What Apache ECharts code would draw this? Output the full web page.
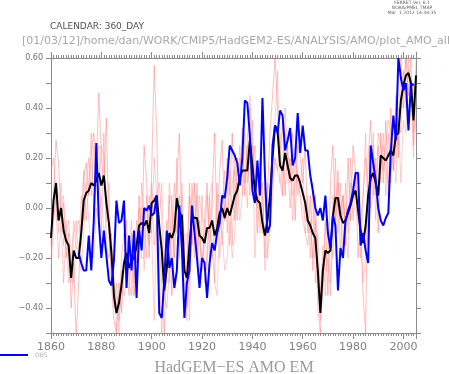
<!DOCTYPE html>
<html><head><meta charset="utf-8">
<script src="https://cdn.jsdelivr.net/npm/echarts@6/dist/echarts.min.js"></script>
<style>html,body{margin:0;padding:0;background:#fff}#c{width:449px;height:374px}</style>
</head><body><div id="c"></div>
<script>
const firstYear = 1860;
const lastYear = 2005;
const xTickLabels = [1860, 1880, 1900, 1920, 1940, 1960, 1980, 2000];
const yTickLabels = [-0.4, -0.2, 0.0, 0.2, 0.4, 0.6];

// Ensemble mean (black)
const emValues = [
 -0.12, 0.03, 0.10, -0.05, 0.00, -0.09, -0.13, -0.15, -0.28, -0.17,
 -0.20, -0.20, -0.10, 0.03, 0.06, 0.07, 0.10, 0.09, 0.11, 0.14,
 0.09, 0.13, 0.02, -0.06, -0.18, -0.35, -0.42, -0.38, -0.31, -0.22,
 -0.18, -0.24, -0.21, -0.20, -0.15, -0.07, -0.06, -0.07, -0.05, -0.10,
 0.02, 0.03, 0.05, -0.07, -0.17, -0.33, -0.24, -0.10, -0.12, -0.09,
 0.04, -0.02, -0.03, -0.25, -0.28, -0.15, -0.03, -0.04, -0.04, -0.11,
 -0.12, -0.14, -0.08, -0.08, -0.05, -0.11, -0.08, -0.02, 0.00, -0.04,
 0.00, -0.03, 0.01, 0.05, 0.07, 0.12, 0.15, 0.15, 0.15, 0.27,
 0.17, 0.07, 0.03, 0.02, -0.06, -0.11, -0.05, 0.05, 0.20, 0.33,
 0.31, 0.17, 0.15, 0.22, 0.17, 0.12, 0.11, 0.13, 0.13, 0.10,
 0.06, 0.02, -0.05, -0.07, -0.10, -0.12, -0.25, -0.42, -0.25, -0.17,
 -0.18, -0.17, -0.03, 0.04, 0.04, -0.03, -0.06, -0.05, -0.02, 0.01,
 0.05, 0.07, -0.01, -0.09, -0.14, -0.07, 0.05, 0.12, 0.14, 0.10,
 0.05, 0.21, 0.20, 0.19, 0.21, 0.23, 0.21, 0.29, 0.30, 0.43,
 0.49, 0.53, 0.54, 0.50, 0.35, 0.53
];

// Observations (blue), null before 1871
const obsValues = [
 null, null, null, null, null, null, null, null, null, null,
 null, -0.18, -0.22, -0.25, -0.25, -0.11, -0.25, -0.05, 0.26, -0.05,
 -0.20, -0.09, -0.19, -0.29, -0.31, -0.21, 0.03, -0.06, -0.05, 0.03,
 -0.32, -0.11, -0.25, -0.09, -0.36, -0.09, -0.17, 0.00, -0.01, 0.01,
 -0.03, -0.02, 0.05, -0.42, -0.44, -0.29, -0.09, -0.24, -0.20, -0.32,
 -0.25, 0.01, -0.16, -0.44, -0.30, -0.25, 0.01, -0.10, -0.20, -0.32,
 -0.20, -0.22, -0.36, -0.22, -0.14, -0.17, -0.10, -0.06, 0.05, 0.04,
 0.12, 0.25, 0.23, 0.21, 0.18, 0.09, 0.20, 0.43, 0.42, 0.29,
 0.07, 0.02, 0.19, 0.05, 0.44, 0.13, -0.10, -0.07, 0.25, 0.33,
 0.30, 0.39, 0.37, 0.23, 0.27, 0.32, 0.17, 0.20, 0.38, 0.22,
 0.33, 0.23, 0.23, 0.13, 0.07, 0.00, -0.03, 0.00, -0.05, 0.05,
 -0.10, -0.16, -0.03, -0.07, -0.33, -0.16, -0.20, -0.05, -0.01, 0.02,
 0.07, 0.14, 0.14, -0.15, -0.10, -0.17, -0.22, 0.25, 0.18, 0.11,
 0.00, -0.05, -0.07, -0.04, -0.02, 0.23, 0.37, 0.27, 0.60, 0.52,
 0.47, 0.50, 0.31, 0.50, 0.49, null
];

// Ensemble members (light red)
const member1 = [
 -0.15, 0.05, 0.27, 0.18, -0.05, 0.02, -0.20, -0.10, -0.40, -0.22,
 -0.52, -0.30, -0.05, 0.12, 0.18, 0.05, 0.22, 0.30, 0.15, 0.46,
 0.20, 0.10, 0.36, -0.10, -0.30, -0.45, -0.50, -0.30, -0.42, -0.20,
 -0.05, -0.30, -0.35, -0.10, -0.22, 0.05, -0.15, 0.25, 0.10, -0.20,
 0.15, 0.57, 0.30, -0.15, -0.30, -0.50, -0.20, 0.05, -0.35, -0.05,
 0.10, 0.30, -0.10, -0.40, -0.20, 0.05, -0.15, 0.10, -0.20, -0.05,
 -0.25, -0.05, 0.10, -0.20, 0.05, 0.30, -0.10, 0.15, 0.27, -0.05,
 0.20, 0.05, 0.30, -0.05, 0.20, 0.10, 0.32, 0.05, 0.28, 0.40,
 0.15, 0.25, -0.10, 0.05, 0.10, -0.20, 0.05, 0.30, 0.45, 0.60,
 0.40, 0.20, 0.35, 0.05, 0.25, 0.10, 0.30, -0.05, 0.25, 0.20,
 0.10, 0.25, -0.10, 0.05, -0.25, -0.05, -0.40, -0.50, -0.30, -0.05,
 -0.35, 0.10, 0.25, -0.05, 0.15, -0.20, 0.05, -0.15, 0.20, -0.05,
 0.25, 0.15, -0.20, -0.05, -0.35, -0.50, 0.20, 0.35, 0.05, 0.20,
 -0.10, 0.30, 0.10, 0.35, 0.05, 0.40, 0.15, 0.45, 0.20, 0.60,
 0.40, 0.60, 0.45, 0.60, 0.25, 0.50
];
const member2 = [
 -0.20, -0.05, 0.05, -0.10, 0.10, -0.15, -0.05, -0.25, -0.30, -0.10,
 -0.05, -0.20, -0.25, -0.10, 0.10, 0.20, 0.05, 0.25, 0.10, 0.05,
 0.25, 0.20, -0.05, 0.10, -0.25, -0.30, -0.35, -0.50, -0.25, -0.35,
 -0.30, -0.15, -0.05, -0.30, -0.05, -0.20, 0.10, -0.05, -0.20, 0.05,
 -0.10, 0.20, 0.05, 0.10, -0.05, -0.35, -0.40, -0.25, 0.05, -0.20,
 0.20, -0.20, 0.10, -0.15, -0.40, -0.30, 0.10, -0.10, 0.05, -0.30,
 0.05, -0.30, -0.20, 0.05, -0.20, -0.10, 0.10, -0.20, -0.05, 0.15,
 -0.10, 0.15, -0.15, 0.20, 0.05, 0.25, 0.05, 0.30, 0.10, 0.20,
 0.35, 0.05, 0.15, -0.05, -0.10, 0.10, -0.20, -0.05, 0.20, 0.35,
 0.55, 0.10, 0.05, 0.30, 0.15, 0.20, -0.05, 0.20, 0.05, 0.10,
 0.20, -0.10, 0.05, -0.20, 0.10, -0.30, -0.10, -0.35, -0.15, -0.35,
 -0.05, -0.30, -0.15, 0.20, -0.10, 0.10, -0.20, 0.10, -0.10, 0.20,
 -0.05, 0.10, 0.15, -0.20, 0.05, 0.30, -0.15, 0.05, 0.30, -0.05,
 0.25, 0.10, 0.30, 0.05, 0.30, 0.10, 0.35, 0.20, 0.40, 0.30,
 0.55, 0.40, 0.60, 0.40, 0.50, 0.30
];
const member3 = [
 0.15, 0.20, 0.00, -0.20, -0.05, -0.30, -0.10, -0.05, -0.20, -0.30,
 -0.10, -0.05, -0.15, 0.15, -0.05, 0.10, 0.30, -0.05, 0.20, 0.25,
 -0.10, 0.30, -0.15, -0.20, -0.10, -0.40, -0.30, -0.45, -0.20, -0.10,
 -0.25, -0.35, -0.10, -0.35, -0.15, 0.00, -0.20, -0.20, 0.05, -0.15,
 0.10, -0.15, -0.05, -0.25, -0.50, -0.25, -0.05, -0.30, -0.15, 0.10,
 -0.10, 0.05, -0.20, -0.30, -0.45, 0.10, -0.10, -0.20, 0.10, -0.15,
 -0.20, -0.15, 0.05, -0.10, -0.15, -0.30, 0.05, 0.05, -0.15, 0.00,
 0.10, -0.15, 0.10, 0.15, -0.05, 0.20, 0.15, 0.10, 0.25, 0.05,
 0.25, 0.15, 0.00, 0.20, -0.05, -0.10, 0.10, 0.05, 0.10, 0.20,
 0.15, 0.30, 0.05, 0.40, 0.20, 0.00, 0.15, 0.25, 0.10, 0.05,
 -0.05, -0.10, -0.15, -0.05, -0.20, 0.05, -0.30, -0.45, -0.20, -0.25,
 -0.20, -0.35, 0.05, -0.10, 0.10, 0.00, 0.05, -0.10, -0.20, 0.10,
 0.05, 0.15, 0.00, -0.05, 0.05, 0.20, 0.10, 0.10, 0.25, 0.05,
 0.30, 0.25, 0.15, 0.25, 0.35, 0.30, 0.15, 0.40, 0.25, 0.45,
 0.50, 0.60, 0.55, 0.45, 0.30, 0.55
];
const member4 = [
 -0.25, -0.05, 0.10, 0.05, 0.00, 0.05, -0.15, -0.30, -0.25, -0.05,
 -0.15, -0.20, 0.05, -0.05, 0.10, -0.05, -0.15, -0.20, 0.00, -0.05,
 0.05, -0.10, -0.05, -0.05, -0.15, -0.25, -0.50, -0.35, -0.40, -0.25,
 -0.10, -0.20, -0.30, -0.35, -0.20, -0.10, 0.00, -0.25, -0.05, -0.05,
 -0.10, -0.45, -0.05, -0.05, 0.10, -0.25, -0.30, 0.10, 0.00, -0.20,
 0.00, -0.15, 0.05, -0.15, -0.10, -0.45, 0.05, 0.10, -0.15, 0.05,
 -0.05, -0.05, -0.25, 0.05, 0.10, -0.30, -0.35, -0.05, -0.10, -0.25,
 -0.20, -0.05, -0.20, -0.10, 0.10, -0.05, 0.05, 0.15, 0.00, 0.45,
 0.30, -0.20, 0.05, -0.10, 0.05, -0.25, -0.15, -0.10, 0.05, 0.20,
 0.15, 0.10, 0.15, 0.10, 0.10, 0.20, 0.05, 0.10, 0.15, 0.05,
 0.00, -0.05, -0.05, -0.10, -0.05, 0.05, -0.25, -0.40, -0.35, -0.05,
 -0.10, -0.15, -0.20, 0.05, 0.00, -0.05, 0.05, -0.05, 0.00, -0.05,
 0.00, 0.00, -0.05, -0.10, -0.30, -0.20, 0.10, 0.00, 0.05, 0.15,
 0.15, 0.20, 0.25, 0.15, 0.10, 0.15, 0.25, 0.10, 0.35, 0.10,
 0.35, 0.30, 0.55, 0.50, 0.20, 0.60
];

const years = [];
for (let y = firstYear; y <= lastYear; y++) years.push(y);
const pairs = vals => years.map((y, i) => [y, vals[i]]);

const axisGray = '#8a8a8a';
const xMin = firstYear, xMax = lastYear, yMin = -0.5, yMax = 0.6;

function xAx(pos, interval, len, labels) {
  return {
    type: 'value', position: pos, min: xMin, max: xMax, interval: interval,
    axisLine: { show: true, onZero: false, lineStyle: { color: axisGray, width: 1 } },
    axisTick: { show: true, inside: false, length: len, lineStyle: { color: axisGray, width: 1 } },
    axisLabel: labels ? {
      show: true, margin: 9, color: '#808080', fontSize: 11, fontFamily: 'DejaVu Sans',
      formatter: v => xTickLabels.indexOf(Math.round(v)) >= 0 && Math.abs(v - Math.round(v)) < 1e-6 ? String(Math.round(v)) : ''
    } : { show: false },
    splitLine: { show: false }
  };
}
function yAx(pos, labels) {
  return {
    type: 'value', position: pos, min: yMin, max: yMax, interval: 0.1,
    axisLine: { show: true, onZero: false, lineStyle: { color: axisGray, width: 1 } },
    axisTick: { show: true, inside: false, length: 5, lineStyle: { color: axisGray, width: 1 } },
    axisLabel: labels ? {
      show: true, margin: 8, color: '#707070', fontSize: 8, fontFamily: 'DejaVu Sans',
      formatter: v => {
        const r = Math.round(v * 10) / 10;
        if (!yTickLabels.some(t => Math.abs(t - r) < 1e-6)) return '';
        return (r < 0 ? '\u2212' : '') + Math.abs(r).toFixed(2);
      }
    } : { show: false },
    splitLine: { show: false }
  };
}

const redStyles = ['rgba(255,110,110,0.45)', 'rgba(255,140,140,0.45)', 'rgba(255,120,120,0.4)', 'rgba(255,150,150,0.45)'];
const members = [member1, member2, member3, member4];

const series = members.map((m, i) => ({
  name: 'member' + (i + 1), type: 'line', data: pairs(m), symbol: 'none',
  lineStyle: { color: redStyles[i], width: 1 }, itemStyle: { color: redStyles[i] },
  xAxisIndex: 0, yAxisIndex: 0, silent: true, z: 2
}));
series.push({
  name: 'EM', type: 'line', data: pairs(emValues), symbol: 'none',
  lineStyle: { color: '#000000', width: 2 }, itemStyle: { color: '#000' }, z: 3
});
series.push({
  name: 'OBS', type: 'line', data: pairs(obsValues), symbol: 'none', connectNulls: false,
  lineStyle: { color: '#0000ff', width: 2 }, itemStyle: { color: '#0000ff' }, z: 4
});

const chart = echarts.init(document.getElementById('c'), null, { renderer: 'canvas' });
chart.setOption({
  animation: false,
  backgroundColor: '#ffffff',
  grid: { left: 51, top: 58, right: 33, bottom: 41, containLabel: false },
  xAxis: [xAx('bottom', 1, 3, false), xAx('bottom', 20, 6, true), xAx('top', 1, 3, false), xAx('top', 20, 6, false)],
  yAxis: [yAx('left', true), yAx('right', false)],
  legend: {
    data: ['OBS'], left: 0, top: 352, padding: 0, icon: 'rect', itemWidth: 28, itemHeight: 2, itemGap: 4,
    textStyle: { fontSize: 6, color: '#b0b0b0', fontFamily: 'DejaVu Sans', padding: [0, 0, 0, 2] },
    selectedMode: false
  },
  graphic: [
    { type: 'text', left: 50, top: 22, style: { text: 'CALENDAR: 360_DAY', fontSize: 9, fill: '#505050', fontFamily: 'DejaVu Sans' } },
    { type: 'text', left: 22, top: 36, style: { text: '[01/03/12]/home/dan/WORK/CMIP5/HadGEM2-ES/ANALYSIS/AMO/plot_AMO_all', fontSize: 11, fill: '#a8a8a8', fontFamily: 'DejaVu Sans' } },
    { type: 'text', x: 412, y: 1, style: { text: 'FERRET Ver. 6.1\nNOAA/PMEL TMAP\nMar  1 2012 14:34:35', fontSize: 4.5, lineHeight: 4.6, fill: '#606060', align: 'center', fontFamily: 'DejaVu Sans' } },
    { type: 'text', x: 234, y: 360, style: { text: 'HadGEM\u2212ES AMO EM', fontSize: 16, fill: '#9a9a9a', align: 'center', fontFamily: 'Liberation Serif' } }
  ],
  series: series
});
</script>
</body></html>
